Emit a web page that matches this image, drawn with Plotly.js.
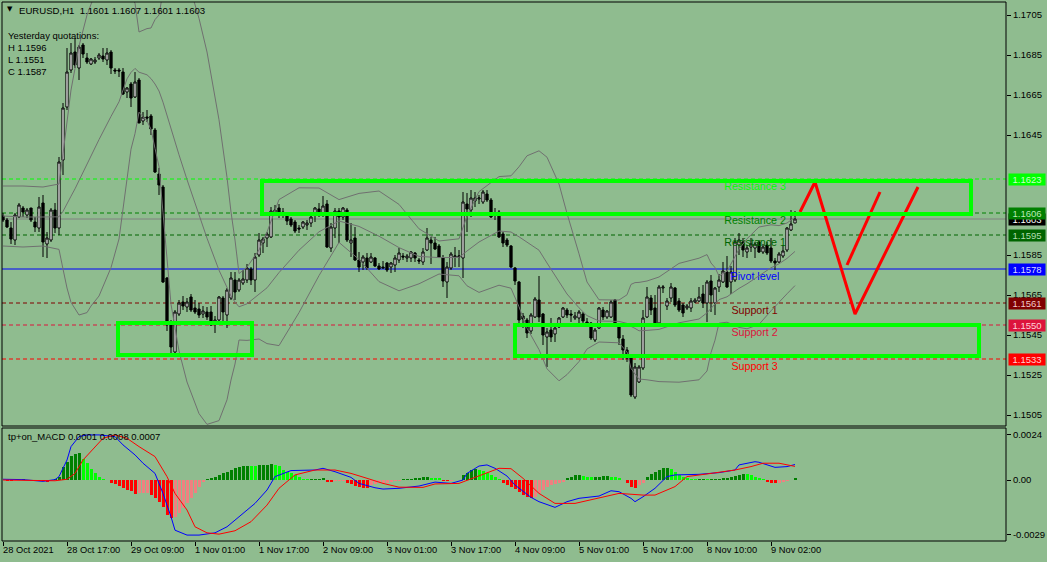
<!DOCTYPE html>
<html><head><meta charset="utf-8">
<script src="https://cdn.plot.ly/plotly-3.0.1.min.js"></script>
<style>html,body{margin:0;padding:0;background:#8fbc8f;}#chart{width:1047px;height:562px;}</style>
</head><body><div id="chart"></div>
<script>
// ---- candle data (EURUSD H1, bar 0 = 28 Oct 2021 01:00) ----
const opens=[1.16045,1.16025,1.15985,1.15925,1.1604,1.16085,1.1605,1.16085,1.16015,1.15985,1.1611,1.15905,1.15925,1.16075,1.15985,1.16325,1.1659,1.16775,1.16865,1.16785,1.169,1.16835,1.16805,1.16815,1.16835,1.16845,1.16825,1.16865,1.16775,1.16775,1.16765,1.16665,1.16705,1.1664,1.16725,1.1652,1.1654,1.16545,1.16475,1.16255,1.1619,1.15735,1.15515,1.15365,1.15555,1.15615,1.1559,1.1564,1.15585,1.1558,1.15555,1.15565,1.15565,1.15515,1.15525,1.15635,1.1555,1.15635,1.15725,1.15675,1.1571,1.15725,1.1578,1.15725,1.1585,1.1591,1.15935,1.1594,1.1606,1.16085,1.16065,1.1605,1.1603,1.16015,1.15985,1.1599,1.16,1.1601,1.1605,1.1608,1.1606,1.16105,1.15885,1.15985,1.1607,1.1604,1.16075,1.1591,1.15935,1.15825,1.15815,1.15835,1.15815,1.15835,1.15795,1.1579,1.1581,1.1579,1.158,1.15825,1.15845,1.15835,1.15835,1.1586,1.15825,1.15815,1.15875,1.15925,1.1591,1.15895,1.15835,1.15715,1.15785,1.1584,1.1584,1.15835,1.16105,1.16075,1.1612,1.1613,1.16115,1.16155,1.16125,1.16055,1.16065,1.15955,1.15925,1.15895,1.15785,1.15715,1.15545,1.15525,1.1547,1.1554,1.15625,1.15555,1.1544,1.15475,1.15455,1.1549,1.1554,1.15575,1.15555,1.15535,1.15535,1.15555,1.15515,1.1551,1.15425,1.15485,1.15575,1.1554,1.1554,1.15625,1.155,1.1543,1.15375,1.15335,1.1514,1.15215,1.15285,1.1554,1.15635,1.15585,1.1551,1.15685,1.15595,1.15635,1.15685,1.1562,1.156,1.15585,1.15585,1.15615,1.1562,1.15655,1.1561,1.1572,1.1561,1.1569,1.15715,1.15765,1.15715,1.15725,1.159,1.15915,1.15865,1.1589,1.15885,1.15915,1.15865,1.159,1.15885,1.1582,1.15815,1.15845,1.15875,1.15975,1.1601];
const highs=[1.1606,1.16035,1.16015,1.1606,1.1611,1.16095,1.16085,1.16085,1.1604,1.1614,1.1615,1.15965,1.16085,1.1611,1.1634,1.1661,1.16885,1.1691,1.16935,1.169,1.1691,1.1686,1.16835,1.1684,1.1686,1.16885,1.16885,1.16875,1.16785,1.16785,1.16785,1.1669,1.16715,1.16765,1.16735,1.16565,1.16575,1.16555,1.16485,1.16285,1.162,1.1574,1.15525,1.15575,1.15625,1.15645,1.15635,1.15655,1.15625,1.1561,1.15595,1.1559,1.15595,1.15545,1.15645,1.15645,1.15685,1.15765,1.15765,1.15735,1.15775,1.15805,1.1579,1.1586,1.1596,1.1594,1.15965,1.1609,1.161,1.16105,1.16085,1.1606,1.1604,1.16025,1.16,1.1602,1.16025,1.16065,1.1609,1.1611,1.16145,1.16125,1.1601,1.16085,1.16085,1.1609,1.16085,1.1601,1.1599,1.15865,1.1585,1.1586,1.1586,1.1584,1.1581,1.1582,1.15815,1.15815,1.1585,1.15885,1.1586,1.15855,1.1587,1.15865,1.15835,1.15885,1.15985,1.1594,1.1594,1.15905,1.1585,1.15815,1.15865,1.1589,1.15875,1.16165,1.1616,1.16175,1.16165,1.1615,1.16175,1.16175,1.16135,1.16085,1.16075,1.15965,1.15935,1.159,1.1579,1.1572,1.1556,1.15535,1.1556,1.1564,1.15745,1.1556,1.15485,1.15535,1.1549,1.1554,1.1559,1.15585,1.15575,1.15565,1.15575,1.15565,1.15535,1.15515,1.15485,1.1559,1.1559,1.15575,1.15625,1.1563,1.1551,1.1545,1.1539,1.1534,1.1531,1.153,1.15575,1.1569,1.1565,1.1565,1.157,1.157,1.15635,1.1571,1.1569,1.15635,1.1561,1.15605,1.15635,1.15635,1.1569,1.157,1.15725,1.1575,1.1569,1.15755,1.15815,1.15845,1.15795,1.15935,1.1596,1.15935,1.159,1.15935,1.15915,1.15925,1.15905,1.15915,1.15935,1.15835,1.15865,1.159,1.1599,1.16075,1.1607];
const lows=[1.16015,1.15985,1.15905,1.159,1.16035,1.1604,1.16035,1.16015,1.15965,1.15965,1.1584,1.15835,1.15915,1.1596,1.1595,1.1625,1.16575,1.1676,1.16785,1.16725,1.16835,1.16805,1.168,1.16805,1.16825,1.16815,1.168,1.16755,1.16755,1.1674,1.1665,1.16635,1.1659,1.16635,1.1651,1.165,1.16515,1.1645,1.1626,1.1615,1.1571,1.1547,1.1535,1.1536,1.15545,1.15575,1.15565,1.15565,1.15555,1.15535,1.15535,1.15525,1.15495,1.1546,1.1551,1.1551,1.15485,1.15625,1.15625,1.15665,1.157,1.1571,1.157,1.15665,1.1584,1.1586,1.1589,1.15935,1.16055,1.16035,1.16035,1.16,1.1599,1.1596,1.1596,1.1598,1.15975,1.1599,1.16015,1.1604,1.1604,1.15885,1.15865,1.15935,1.1591,1.16025,1.15915,1.1584,1.1582,1.15765,1.15775,1.15775,1.1581,1.1579,1.15775,1.15785,1.15765,1.1576,1.15765,1.1581,1.15825,1.15815,1.15815,1.15815,1.15805,1.158,1.1587,1.15805,1.15875,1.15835,1.1569,1.15635,1.15775,1.1579,1.1579,1.15735,1.15965,1.1604,1.1609,1.16105,1.16105,1.16115,1.16035,1.16025,1.15935,1.1589,1.1589,1.15785,1.157,1.1551,1.15485,1.15435,1.15455,1.15535,1.15515,1.154,1.1529,1.15415,1.15415,1.15485,1.15535,1.15535,1.15515,1.15525,1.1549,1.1551,1.1549,1.15425,1.15415,1.1548,1.15525,1.1553,1.15535,1.1549,1.154,1.15325,1.15315,1.1514,1.1513,1.1521,1.15275,1.15535,1.1555,1.1549,1.155,1.1566,1.15575,1.15615,1.1559,1.15565,1.1554,1.15575,1.15565,1.1561,1.15615,1.15585,1.15515,1.15565,1.1555,1.15665,1.1571,1.15685,1.15655,1.15715,1.1585,1.1584,1.15835,1.15865,1.15835,1.1586,1.15855,1.1585,1.1581,1.15775,1.1581,1.15835,1.15865,1.1597,1.1601];
const closes=[1.16025,1.1599,1.1593,1.1605,1.161,1.16065,1.16075,1.16025,1.1599,1.1609,1.15915,1.15935,1.16075,1.15985,1.16315,1.16585,1.16765,1.1686,1.168,1.1689,1.16855,1.16815,1.1683,1.16825,1.1685,1.1683,1.1686,1.16785,1.1677,1.1677,1.16655,1.16685,1.16635,1.16715,1.1651,1.1654,1.16535,1.1648,1.16265,1.162,1.15715,1.155,1.1539,1.15565,1.1561,1.15595,1.15615,1.15575,1.15565,1.1555,1.1557,1.1554,1.155,1.15525,1.1564,1.15565,1.15675,1.15735,1.15665,1.15725,1.1573,1.15785,1.15725,1.1584,1.15925,1.1593,1.15955,1.1607,1.16075,1.1606,1.1605,1.1602,1.16,1.1597,1.1598,1.16015,1.1601,1.1604,1.16085,1.1605,1.16095,1.1589,1.1599,1.1607,1.1604,1.16085,1.15925,1.15925,1.15825,1.1579,1.1584,1.15785,1.1584,1.15795,1.1578,1.15785,1.15775,1.1581,1.15835,1.1586,1.1584,1.15845,1.15865,1.15835,1.1582,1.15865,1.15935,1.1591,1.1588,1.1584,1.1572,1.1579,1.15855,1.15845,1.15845,1.16115,1.1608,1.16135,1.16135,1.16135,1.16165,1.16125,1.1604,1.1605,1.1594,1.1591,1.159,1.1579,1.1572,1.15525,1.1553,1.1546,1.1555,1.1563,1.1554,1.1545,1.15465,1.1544,1.15485,1.15535,1.15585,1.1555,1.1555,1.15545,1.15565,1.1552,1.1551,1.15435,1.15475,1.15585,1.1554,1.1557,1.15615,1.155,1.15435,1.15375,1.15335,1.1515,1.1529,1.1529,1.15535,1.1564,1.15575,1.155,1.1569,1.1569,1.1562,1.1569,1.156,1.15575,1.1556,1.15595,1.1562,1.15625,1.1564,1.1561,1.15715,1.1565,1.15685,1.15725,1.1577,1.1569,1.15765,1.15915,1.15925,1.15875,1.15885,1.15905,1.15905,1.15865,1.1589,1.1586,1.1582,1.1581,1.15855,1.1587,1.15985,1.16005,1.1603];

// ---- Bollinger bands (grey), values read at these bars ----
const bandBars=[0,5,10,14,15,16,17,18,19,21,22,24,27,29,31,32,33,34,36,37,38,39,40,41,42,44,46,49,51,54,56,57,58,59,61,64,66,69,74,79,84,89,94,99,104,109,114,116,119,124,127,129,131,134,136,139,141,144,146,149,154,156,157,158,159,161,164,169,174,176,177,178,179,181,184,186,189,192,194,196,198];
const bandUpper=[1.16195,1.16195,1.1619,1.16205,1.16356,1.16522,1.16675,1.16783,1.16895,1.1705,1.17108,1.1721,1.17299,1.173,1.17242,1.17147,1.17109,1.16965,1.16982,1.16985,1.17027,1.1705,1.17167,1.17275,1.17348,1.1733,1.17239,1.17033,1.16865,1.16526,1.16238,1.16065,1.15925,1.15757,1.15789,1.15875,1.15965,1.16127,1.16186,1.16185,1.16127,1.16158,1.1617,1.16103,1.15981,1.1592,1.15931,1.16044,1.16167,1.16242,1.16246,1.16291,1.16346,1.16371,1.16339,1.16205,1.16058,1.15856,1.15715,1.15626,1.15625,1.15651,1.15703,1.15712,1.15713,1.1572,1.1574,1.15808,1.15834,1.15852,1.1581,1.15787,1.15745,1.15769,1.15879,1.15931,1.1599,1.16001,1.15997,1.1601,1.16039];
const bandMiddle=[1.16045,1.1604,1.1604,1.16041,1.16068,1.16103,1.16144,1.16181,1.16223,1.16306,1.16351,1.16427,1.16543,1.16616,1.16731,1.16763,1.16783,1.16764,1.16751,1.16732,1.16705,1.1667,1.16614,1.16548,1.16476,1.16351,1.16227,1.16045,1.15934,1.15774,1.15682,1.15645,1.15615,1.15591,1.15606,1.15652,1.15686,1.15762,1.15874,1.15966,1.1602,1.15993,1.15944,1.15887,1.15843,1.15837,1.15838,1.1587,1.15915,1.1597,1.15965,1.15941,1.15915,1.15874,1.1581,1.15713,1.15655,1.15586,1.15547,1.1552,1.15518,1.15508,1.15493,1.15483,1.15471,1.15473,1.15478,1.15511,1.1553,1.15561,1.15586,1.15605,1.15627,1.15641,1.15683,1.15706,1.15746,1.15786,1.15806,1.15833,1.15868];
const bandLower=[1.15895,1.1589,1.15895,1.15878,1.1578,1.15685,1.15613,1.1558,1.1555,1.15562,1.15595,1.15645,1.15787,1.1593,1.1622,1.16379,1.16457,1.16564,1.1652,1.16479,1.16383,1.16292,1.16061,1.15821,1.15604,1.1537,1.15215,1.15057,1.15003,1.15022,1.15126,1.15225,1.15305,1.15425,1.15423,1.1543,1.15407,1.15397,1.15562,1.15747,1.15913,1.15828,1.15717,1.15671,1.15706,1.15755,1.15746,1.15696,1.15663,1.15699,1.15684,1.15591,1.15484,1.15377,1.15281,1.15221,1.15252,1.15317,1.1538,1.15415,1.15411,1.15365,1.15283,1.15255,1.1523,1.15226,1.15217,1.15214,1.15226,1.1527,1.15362,1.15424,1.15509,1.15514,1.15488,1.15481,1.15503,1.15571,1.15616,1.15656,1.15697];

// ---- x axis labels ----
const timeTickBars=[0,16,32,48,64,80,96,112,128,144,160,176,192];
const timeTickLabels=['28 Oct 2021','28 Oct 17:00','29 Oct 09:00','1 Nov 01:00','1 Nov 17:00','2 Nov 09:00','3 Nov 01:00','3 Nov 17:00','4 Nov 09:00','5 Nov 01:00','5 Nov 17:00','8 Nov 10:00','9 Nov 02:00'];
const priceTicks=[1.1505,1.1525,1.1545,1.1565,1.1585,1.1645,1.1665,1.1685,1.1705];

// ---- pivot levels ----
const levelNames=['Resistance 3','Resistance 2','Resistance 1','Pivot level','Support 1','Support 2','Support 3'];
const levelPrices=[1.1623,1.1606,1.1595,1.1578,1.1561,1.1550,1.1533];
const bidPrice=1.1603;

// ---- zones (rectangles) ----
const zoneStartBar=[28.75,64.75,128];
const zoneEndBar=[62.25,242,244];
const zoneTop=[1.1551,1.1622,1.1550];
const zoneBottom=[1.1535,1.16055,1.15345];

// ---- projected path ----
const pathABars=[199.25,203,213,228.75];
const pathAPrices=[1.16065,1.16215,1.15555,1.1619];
const pathBBars=[211,219.25];
const pathBPrices=[1.158,1.16165];

// ---- MACD ----
const macdHist=[-0.00002,-0.00005,-0.00007,-0.00004,0.00002,0.00003,0.00002,0.00001,-0.00002,-0.00003,-0.00007,-0.00009,-0.00004,0.00004,
0.00018,0.00071,0.00097,0.00127,0.00136,0.00142,0.0011,0.00089,0.00057,0.00035,0.00018,0.00005,0.00002,
-0.00018,-0.00023,-0.00032,-0.00044,-0.00053,-0.00057,-0.00074,-0.00071,-0.0007,-0.00067,-0.0008,-0.00097,-0.00115,-0.00145,-0.00186,-0.00204,-0.00195,-0.00177,-0.0015,-0.00124,-0.00097,-0.00071,-0.00035,-0.00011,
0.00007,0.00009,0.00018,0.00027,0.00035,0.00044,0.00053,0.00062,0.00071,0.00074,0.00075,0.00074,0.00073,0.0008,0.00081,0.00082,0.00085,0.0008,0.00074,0.00053,0.00044,0.00039,0.00027,0.00014,0.00007,0.00004,0.00005,0.00006,0.00007,0.00009,
-0.00009,-0.00011,-0.00005,-0.00004,-0.00003,-0.00018,-0.00021,-0.00032,-0.00035,-0.0004,-0.00044,-0.00027,-0.00021,-0.00018,-0.00016,-0.00014,-0.00011,-0.00007,-0.00005,
0.00003,0.00005,0.00007,0.00009,0.00011,0.00014,0.00015,0.00012,0.0001,0.00008,
-0.00004,-0.00005,-0.00003,-0.00002,-0.00002,
0.00025,0.00039,0.00053,0.0006,0.00053,0.0005,0.00035,0.00027,0.00014,0.00004,
-0.00018,-0.00027,-0.00035,-0.0005,-0.00062,-0.0008,-0.00092,-0.00097,-0.00089,-0.00071,-0.00053,-0.00035,-0.00027,-0.00021,-0.00014,-0.00009,
0.0001,0.00018,0.00025,0.00026,0.00021,0.00018,0.00014,0.00015,0.00018,0.00019,0.00021,0.00018,0.00014,0.00009,0.00002,
-0.00018,-0.00035,-0.0004,-0.00027,-0.00014,
0.00018,0.00032,0.00044,0.00053,0.00062,0.00065,0.0006,0.00044,0.00027,0.00018,0.00009,0.00005,0.00004,0.00004,0.00005,0.00003,0.00004,0.00005,0.00007,0.00009,0.00012,0.00014,0.00021,0.00027,0.00032,0.00031,0.00025,0.00018,0.00009,0.00004,
-0.00009,-0.00018,-0.00018,-0.00014,-0.00009,-0.00004,-0.00002,0.0001];
const macdLineBars=[0,5,10,13,14,16,17,19,21,24,28,30,33,35,38,40,42,43,46,49,53,56,59,63,66,68,72,78,80,83,87,89,93,95,99,104,108,112,115,116,119,121,123,126,128,132,134,138,141,144,149,152,154,157,158,160,163,166,168,174,179,183,184,188,189,193,196,198];
const macdLine=[0.00004,0.00002,-0.00007,0.00002,0.00018,0.00106,0.00177,0.0023,0.00239,0.00239,0.0023,0.00186,0.00133,0.00089,0.00035,-0.00071,-0.00195,-0.00266,-0.00292,-0.00292,-0.0028,-0.00248,-0.00195,-0.00124,-0.00053,0.00018,0.0005,0.00053,0.00062,0.00044,0.00014,-0.00018,-0.00041,-0.00048,-0.00044,-0.00032,-0.00011,-0.00018,0,0.00035,0.00074,0.0008,0.00062,0.00021,-0.00027,-0.00092,-0.00115,-0.00145,-0.00115,-0.00097,-0.00085,-0.00057,-0.00062,-0.00097,-0.00115,-0.00089,-0.00044,0.00018,0.00027,0.0003,0.00039,0.00053,0.0008,0.00097,0.00094,0.00067,0.00071,0.00082];
const signalBars=[0,13,16,18,20,23,25,28,31,34,38,41,43,46,48,51,54,58,62,66,69,73,78,83,87,91,95,99,105,108,114,118,122,124,127,130,134,138,143,149,154,160,163,168,171,176,183,187,190,194,198];
const signalLine=[0,-0.00004,0.00004,0.00035,0.00106,0.00177,0.00221,0.00239,0.00221,0.00177,0.00124,0.00018,-0.00071,-0.00159,-0.00248,-0.0028,-0.00287,-0.00269,-0.00221,-0.00133,-0.00044,0.00027,0.00053,0.00053,0.00035,0.00009,-0.00018,-0.00038,-0.00039,-0.00021,-0.00018,0.00014,0.00044,0.00062,0.0006,0.00009,-0.00071,-0.00124,-0.00124,-0.00097,-0.00071,-0.0008,-0.0008,-0.00035,0.00018,0.00032,0.00053,0.00071,0.00089,0.00089,0.00072];
const macdTickVals=[0.0024,0,-0.0029];
const macdTickText=['0.0024','0.00','-0.0029'];

// ---------------- drawing ----------------
const FONT='Liberation Sans';
const barNo=opens.map((_,k)=>k);
const yPaper=py=>(541-py)/539;
const xPaper=px=>(px-2)/1004;
const levelColors=['#00ff00','#008000','#006400','#0000ff','#800000','#dc143c','#ff0000'];
const levelTextBar=[180.3,180.3,180.3,181.9,182.1,182.1,182.1];
const textDrop=0.000125; // text sits just under its level line

const histColors=macdHist.map((v,k)=>{
  const prev=k>0?macdHist[k-1]:0;
  if(v>=0) return v>=prev?'#008000':'#00ff00';
  return v<=prev?'#ff0000':'#f08080';
});
const grey={color:'#707070',width:1};
const traces=[
  {type:'scatter',mode:'text',x:levelTextBar,y:levelPrices.map(p=>p-textDrop),text:levelNames,textposition:'bottom right',xaxis:'x',yaxis:'y',
   textfont:{family:FONT,size:10.7,color:levelColors},hoverinfo:'skip',showlegend:false,cliponaxis:false},
  {type:'scatter',mode:'lines',x:bandBars,y:bandUpper,xaxis:'x',yaxis:'y',line:grey,hoverinfo:'skip',showlegend:false},
  {type:'scatter',mode:'lines',x:bandBars,y:bandMiddle,xaxis:'x',yaxis:'y',line:grey,hoverinfo:'skip',showlegend:false},
  {type:'scatter',mode:'lines',x:bandBars,y:bandLower,xaxis:'x',yaxis:'y',line:grey,hoverinfo:'skip',showlegend:false},
  {type:'candlestick',x:barNo,open:opens,high:highs,low:lows,close:closes,xaxis:'x',yaxis:'y',
   increasing:{line:{color:'#000000',width:1},fillcolor:'#ffffff'},
   decreasing:{line:{color:'#000000',width:1},fillcolor:'#000000'},
   whiskerwidth:0,hoverinfo:'skip',showlegend:false},
  {type:'scatter',mode:'lines',x:pathABars,y:pathAPrices,xaxis:'x',yaxis:'y',line:{color:'#ff0000',width:3},hoverinfo:'skip',showlegend:false},
  {type:'scatter',mode:'lines',x:pathBBars,y:pathBPrices,xaxis:'x',yaxis:'y',line:{color:'#ff0000',width:3},hoverinfo:'skip',showlegend:false},
  {type:'bar',x:barNo,y:macdHist,xaxis:'x',yaxis:'y2',width:0.75,marker:{color:histColors,line:{width:0}},hoverinfo:'skip',showlegend:false},
  {type:'scatter',mode:'lines',x:macdLineBars,y:macdLine,xaxis:'x',yaxis:'y2',line:{color:'#0000ff',width:1},hoverinfo:'skip',showlegend:false},
  {type:'scatter',mode:'lines',x:signalBars,y:signalLine,xaxis:'x',yaxis:'y2',line:{color:'#ff0000',width:1},hoverinfo:'skip',showlegend:false}
];

const levelDash=['dash','dash','dash','solid','dash','dash','dash'];
const shapes=[];
shapes.push({type:'line',xref:'paper',x0:0,x1:1,yref:'y',y0:bidPrice,y1:bidPrice,line:{color:'#808080',width:1},layer:'below'});
levelPrices.forEach((p,k)=>{
  shapes.push({type:'line',xref:'paper',x0:0,x1:1,yref:'y',y0:p,y1:p,line:{color:levelColors[k],width:1,dash:levelDash[k]==='dash'?'4px,3px':'solid'},layer:'below'});
});
zoneStartBar.forEach((s,k)=>{
  shapes.push({type:'rect',xref:'x',yref:'y',x0:s,x1:zoneEndBar[k],y0:zoneBottom[k],y1:zoneTop[k],line:{color:'#00ff00',width:4},fillcolor:'rgba(0,0,0,0)',layer:'above'});
});
shapes.push({type:'rect',xref:'paper',yref:'paper',x0:0,x1:1,y0:yPaper(426),y1:1,line:{color:'#000000',width:1},layer:'above'});
shapes.push({type:'rect',xref:'paper',yref:'paper',x0:0,x1:1,y0:0,y1:yPaper(428),line:{color:'#000000',width:1},layer:'above'});

const ann=[];
// right price labels
const labelText=['#c8ffc8','#b8e8b8','#b0dcb0','#d8d8ff','#f0c8c8','#ffd0d8','#ffd0d0'];
ann.push({xref:'paper',yref:'y',x:1,y:bidPrice,xanchor:'left',yanchor:'middle',xshift:2,text:bidPrice.toFixed(4),showarrow:false,
  bgcolor:'#000000',borderpad:0,width:36,height:11,font:{family:FONT,size:9.5,color:'#ffffff'}});
levelPrices.forEach((p,k)=>{
  ann.push({xref:'paper',yref:'y',x:1,y:p,xanchor:'left',yanchor:'middle',xshift:2,text:p.toFixed(4),showarrow:false,
    bgcolor:levelColors[k],borderpad:0,width:36,height:11,font:{family:FONT,size:9.5,color:labelText[k]}});
});
// x axis labels
timeTickBars.forEach((b,k)=>{
  ann.push({xref:'x',yref:'paper',x:b,y:yPaper(550),xanchor:'left',yanchor:'middle',text:timeTickLabels[k],showarrow:false,borderpad:0,xshift:-1,
    font:{family:FONT,size:9.3,color:'#000000'}});
});
// header texts
ann.push({xref:'paper',yref:'paper',x:xPaper(10),y:yPaper(9.5),xanchor:'center',yanchor:'middle',text:'▼',showarrow:false,borderpad:0,font:{family:'DejaVu Sans',size:7,color:'#000000'}});
ann.push({xref:'paper',yref:'paper',x:xPaper(18),y:yPaper(10),xanchor:'left',yanchor:'middle',text:'EURUSD,H1\u00a0\u00a01.1601 1.1607 1.1601 1.1603',showarrow:false,borderpad:0,font:{family:FONT,size:9.6,color:'#000000'}});
const infoLines=['Yesterday quotations:','H 1.1596','L 1.1551','C 1.1587'];
infoLines.forEach((t,k)=>{
  ann.push({xref:'paper',yref:'paper',x:xPaper(7),y:yPaper(36+k*11.8),xanchor:'left',yanchor:'middle',text:t,showarrow:false,borderpad:0,font:{family:FONT,size:9.5,color:'#000000'}});
});
ann.push({xref:'paper',yref:'paper',x:xPaper(7),y:yPaper(436.5),xanchor:'left',yanchor:'middle',text:'tp+on_MACD 0.0001 0.0008 0.0007',showarrow:false,borderpad:0,font:{family:FONT,size:9.5,color:'#000000'}});

const layout={
  width:1047,height:562,
  margin:{l:2,r:41,t:2,b:21,pad:0},
  paper_bgcolor:'#8fbc8f',plot_bgcolor:'#8fbc8f',
  showlegend:false,dragmode:false,bargap:0,boxgap:0.2,
  xaxis:{range:[-0.25,250.75],anchor:'y2',showgrid:false,zeroline:false,showline:false,
    ticks:'outside',tickvals:timeTickBars,ticklen:4,tickcolor:'#000000',tickwidth:1,showticklabels:false,
    rangeslider:{visible:false},fixedrange:true},
  yaxis:{domain:[yPaper(426),1],range:[1.14995,1.17115],side:'right',showgrid:false,zeroline:false,showline:false,
    ticks:'outside',ticklen:4,tickcolor:'#000000',tickvals:priceTicks,tickformat:'.4f',
    tickfont:{family:FONT,size:9.5,color:'#000000'},fixedrange:true},
  yaxis2:{domain:[0,yPaper(428)],range:[-0.003233,0.002756],side:'right',showgrid:false,zeroline:false,showline:false,
    ticks:'outside',ticklen:4,tickcolor:'#000000',tickvals:macdTickVals,ticktext:macdTickText,
    tickfont:{family:FONT,size:9.5,color:'#000000'},fixedrange:true},
  shapes:shapes,annotations:ann
};
Plotly.newPlot('chart',traces,layout,{staticPlot:true,displayModeBar:false});
</script></body></html>
